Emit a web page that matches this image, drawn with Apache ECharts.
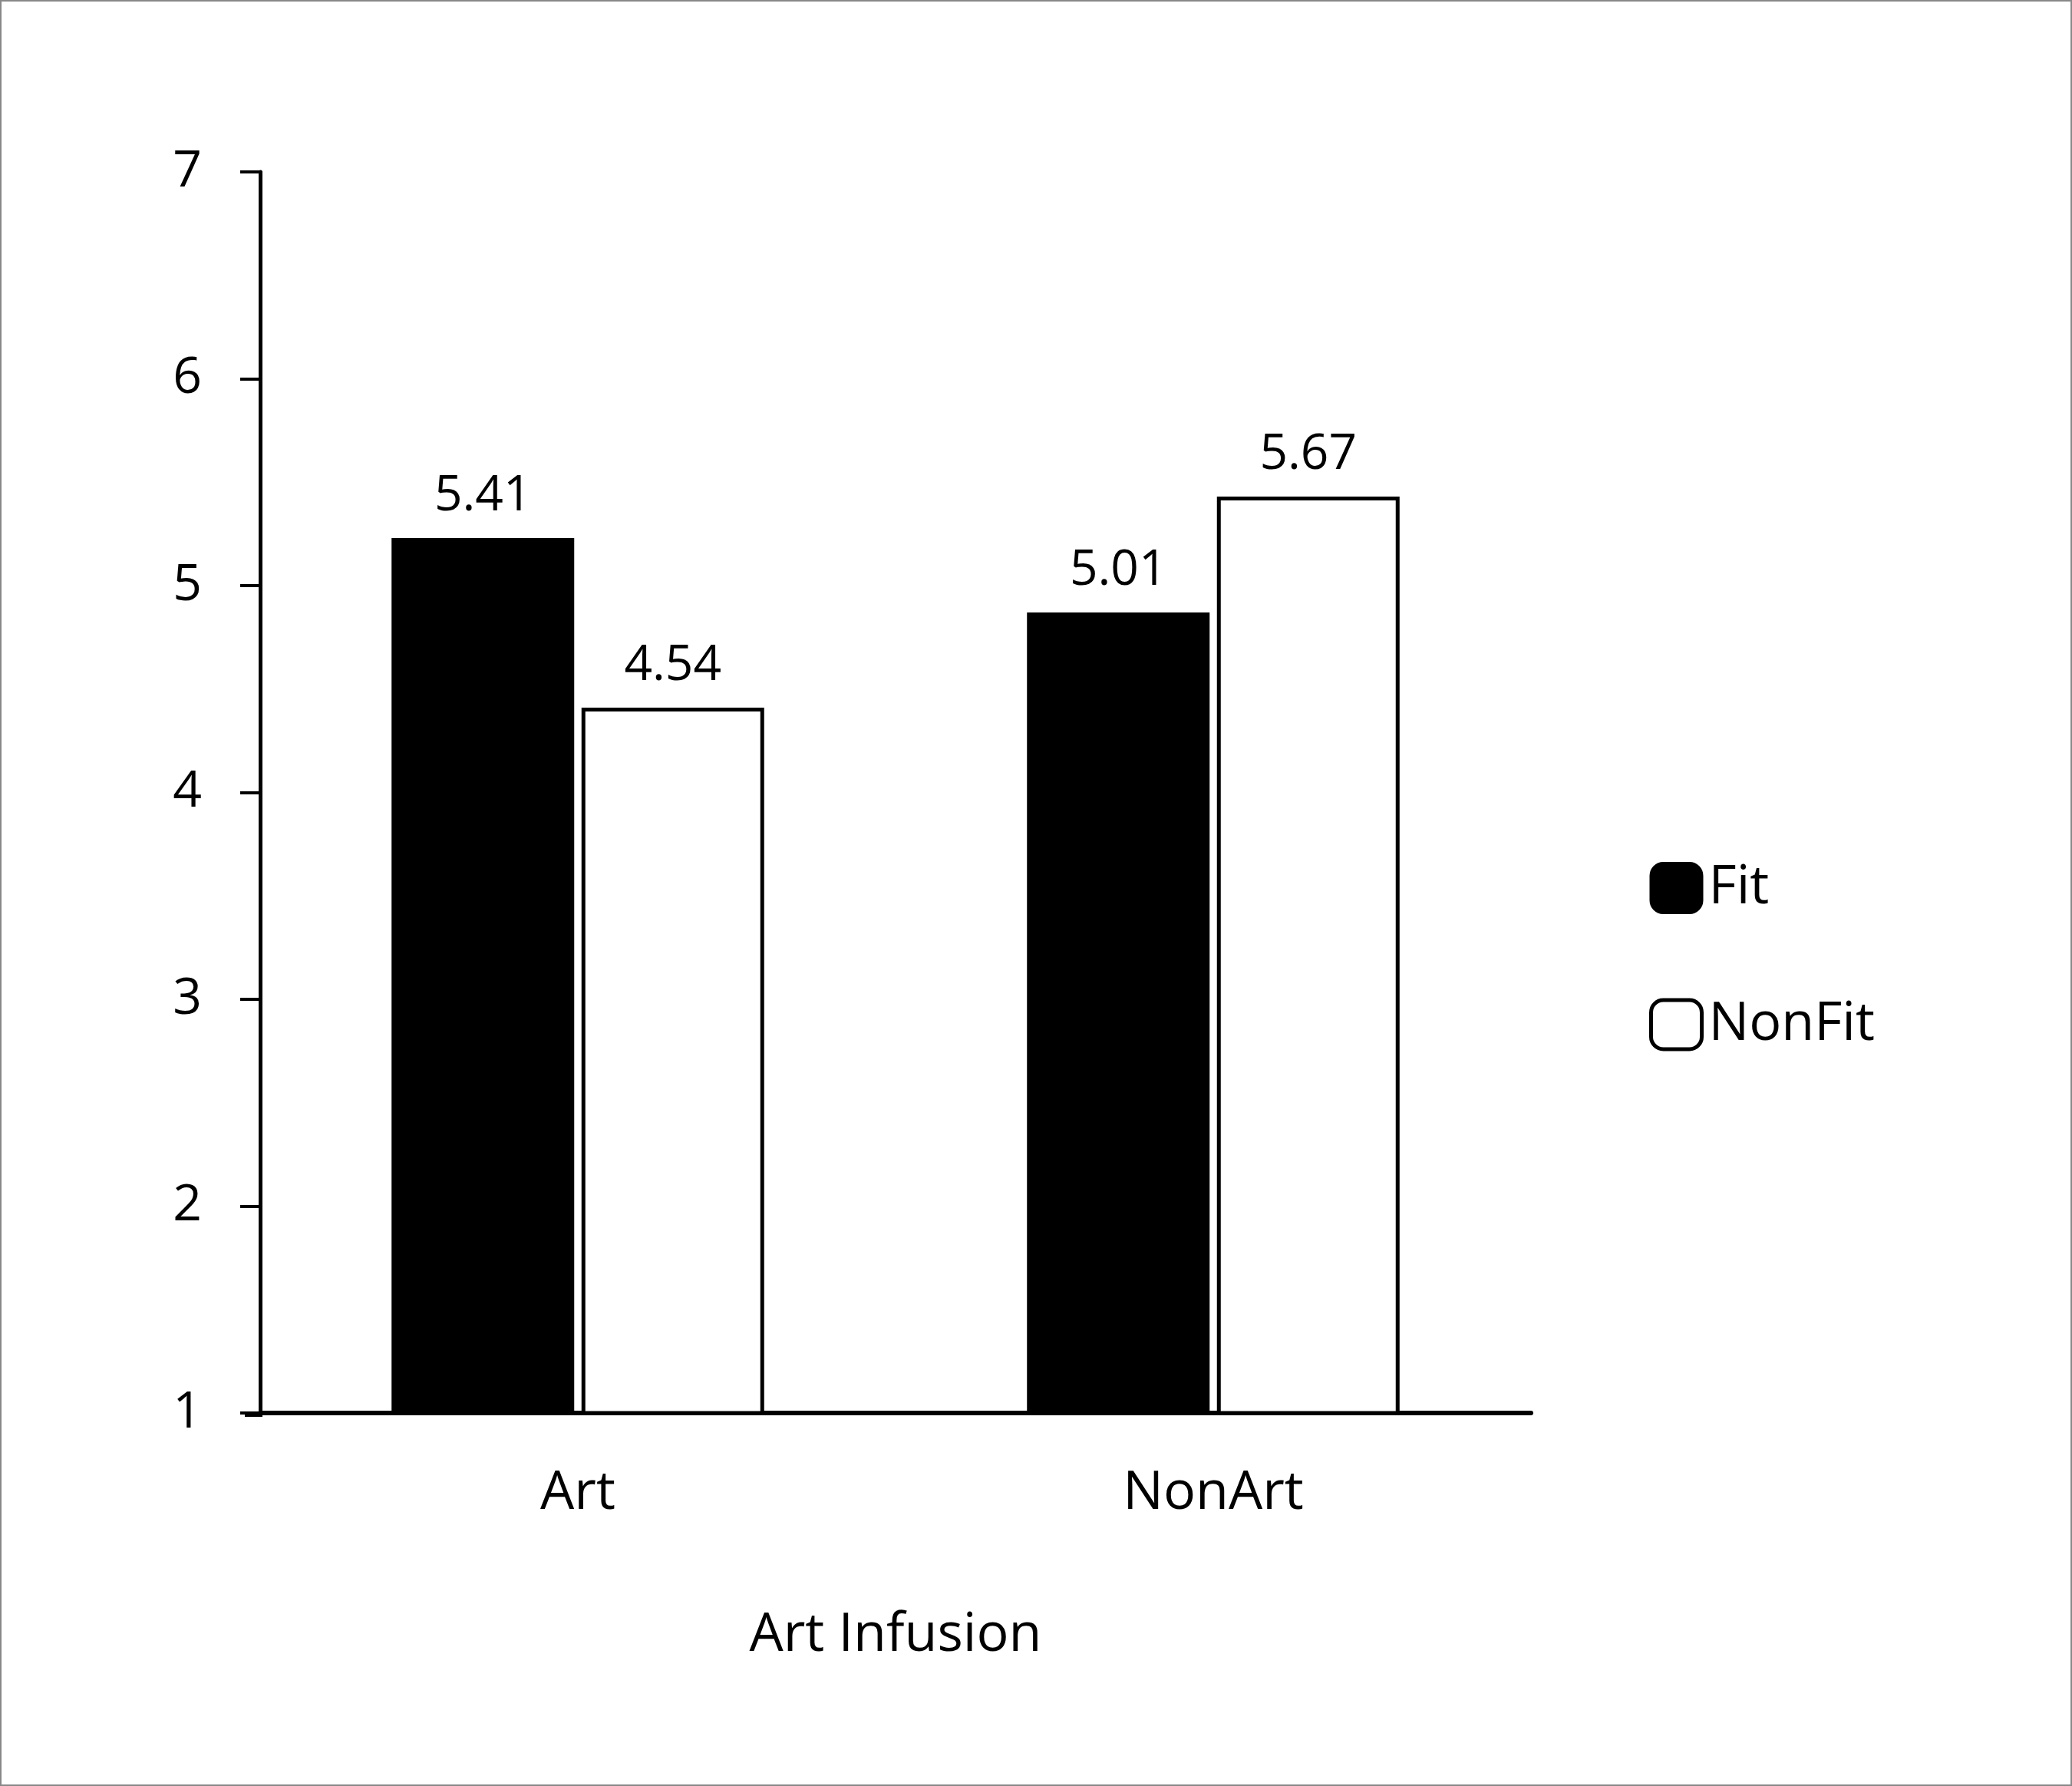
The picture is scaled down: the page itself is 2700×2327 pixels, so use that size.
<!DOCTYPE html>
<html><head><meta charset="utf-8">
<script src="https://cdn.jsdelivr.net/npm/echarts@6/dist/echarts.min.js"></script>
<style>html,body{margin:0;padding:0;background:#fff}#c{width:2700px;height:2327px;box-sizing:border-box;border:2px solid #888}</style>
</head><body><div id="c"></div>
<script>
const categories = ['Art', 'NonArt'];
const fitValues = [5.23, 4.87];
const nonFitValues = [4.41, 5.43];
const fitLabels = ['5.41', '5.01'];
const nonFitLabels = ['4.54', '5.67'];
const yTicks = [1, 2, 3, 4, 5, 6, 7];

const FONT = 'Open Sans';
const chart = echarts.init(document.getElementById('c'));
chart.setOption({
  animation: false,
  backgroundColor: '#fff',
  textStyle: {fontFamily: FONT, color: '#000'},
  grid: {left: 337, right: 703, top: 222, bottom: 484, containLabel: false},
  legend: {
    orient: 'vertical', left: 2142, top: 1115, itemWidth: 66, itemHeight: 64, itemGap: 108,
    textStyle: {fontSize: 70, fontFamily: FONT, color: '#000', padding: [0, 0, 0, 4]},
    data: [
      {name: 'Fit', itemStyle: {color: '#000', borderColor: '#000', borderWidth: 4}},
      {name: 'NonFit', itemStyle: {color: '#fff', borderColor: '#000', borderWidth: 5}}
    ]
  },
  xAxis: {
    type: 'category', data: categories,
    axisLine: {lineStyle: {color: '#000', width: 6}},
    axisTick: {show: false},
    axisLabel: {fontSize: 70, color: '#000', margin: 70, fontFamily: FONT},
    name: 'Art Infusion', nameLocation: 'middle', nameGap: 255,
    nameTextStyle: {fontSize: 70, color: '#000', fontFamily: FONT}
  },
  yAxis: {
    type: 'value', min: 1, max: 7, interval: 1,
    axisLine: {show: true, lineStyle: {color: '#000', width: 5}},
    axisTick: {show: true, length: 26, lineStyle: {color: '#000', width: 4}},
    splitLine: {show: false},
    axisLabel: {fontSize: 66, color: '#000', margin: 76, fontFamily: FONT,
      formatter: v => yTicks.includes(v) ? String(v) : ''}
  },
  graphic: [{type: 'line', shape: {x1: 317, y1: 1841, x2: 340, y2: 1841}, style: {stroke: '#000', lineWidth: 6}}],
  series: [
    {name: 'Fit', type: 'bar', data: fitValues, barWidth: 238, barGap: '4%',
      itemStyle: {color: '#000', borderColor: '#000', borderWidth: 4},
      label: {show: true, position: 'top', distance: 22, fontSize: 64, color: '#000', fontFamily: FONT,
        formatter: p => fitLabels[p.dataIndex]}},
    {name: 'NonFit', type: 'bar', data: nonFitValues, barWidth: 238,
      itemStyle: {color: '#fff', borderColor: '#000', borderWidth: 5},
      label: {show: true, position: 'top', distance: 22, fontSize: 64, color: '#000', fontFamily: FONT,
        formatter: p => nonFitLabels[p.dataIndex]}}
  ]
});
</script></body></html>
